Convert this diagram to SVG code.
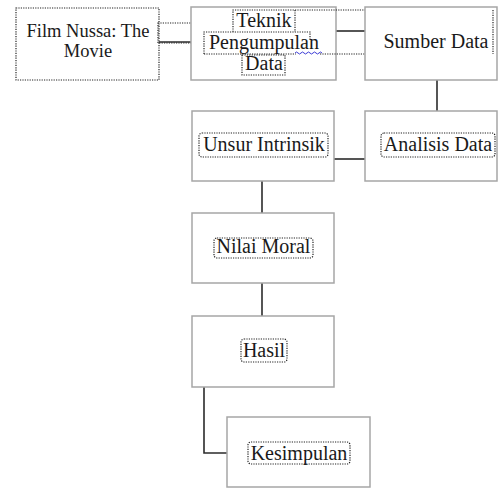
<svg xmlns="http://www.w3.org/2000/svg" width="499" height="488" viewBox="0 0 499 488" font-family="Liberation Serif, serif">
<style>
.box{fill:#fff;stroke:#a6a6a6;stroke-width:1.5}
.dot{fill:none;stroke:#222;stroke-width:1.2;stroke-dasharray:1.2 1.2}
.con{fill:none;stroke:#2b2b2b;stroke-width:1.6}
</style>
<rect width="499" height="488" fill="#fff"/>
<g id="connectors">
<line class="con" x1="159" y1="42" x2="194" y2="42"/>
<rect class="dot" x="158" y="23" width="38" height="20"/>
<line class="con" x1="336" y1="31" x2="365" y2="31"/>
<line class="con" x1="437" y1="80" x2="437" y2="111"/>
<line class="con" x1="334" y1="159" x2="365" y2="159"/>
<line class="con" x1="262" y1="181" x2="262" y2="213"/>
<line class="con" x1="262" y1="283" x2="262" y2="316"/>
<polyline class="con" points="204,387 204,453 227,453"/>
</g>
<g id="film">
<rect class="dot" x="16" y="8" width="143" height="72"/>
<text x="88" y="37" style="font-family:'Liberation Serif',serif;font-size:18.5px" fill="#1a1a1a" text-anchor="middle">Film Nussa: The</text>
<text x="88" y="57" style="font-family:'Liberation Serif',serif;font-size:18.5px" fill="#1a1a1a" text-anchor="middle">Movie</text>
</g>
<g id="teknik">
<rect class="box" x="191" y="7" width="145" height="73"/>
<path class="dot" d="M233,32 V10 H493 M295,10 V32 M204,54 V32 H310 V40 M320,54 H493"/>
<rect class="dot" x="242" y="55" width="43" height="20"/>
<line class="dot" x1="204" y1="54" x2="296" y2="54"/>
<text x="264" y="27" style="font-family:'Liberation Serif',serif;font-size:20px" fill="#1a1a1a" text-anchor="middle">Teknik</text>
<text x="264" y="49" style="font-family:'Liberation Serif',serif;font-size:20px" fill="#1a1a1a" text-anchor="middle">Pengumpulan</text>
<text x="264" y="70" style="font-family:'Liberation Serif',serif;font-size:20px" fill="#1a1a1a" text-anchor="middle">Data</text>
<path d="M295,53 q1.5,-2 3,0 t3,0 t3,0 t3,0 t3,0 t3,0 t3,0 t3,0 t3,0" fill="none" stroke="#3b3bd6" stroke-width="1"/>
</g>
<g id="sumber">
<rect class="box" x="365" y="7" width="132" height="73"/>
<path class="dot" d="M493,10 V54"/>
<text x="436" y="48" style="font-family:'Liberation Serif',serif;font-size:20px" fill="#1a1a1a" text-anchor="middle">Sumber Data</text>
</g>
<g id="unsur">
<rect class="box" x="192" y="111" width="142" height="70"/>
<rect class="dot" x="199" y="133" width="129" height="24" rx="3"/>
<text x="264" y="151" style="font-family:'Liberation Serif',serif;font-size:20px" fill="#1a1a1a" text-anchor="middle">Unsur Intrinsik</text>
</g>
<g id="analisis">
<rect class="box" x="365" y="111" width="132" height="70"/>
<rect class="dot" x="381" y="133" width="114" height="24" rx="3"/>
<text x="438" y="151" style="font-family:'Liberation Serif',serif;font-size:20px" fill="#1a1a1a" text-anchor="middle">Analisis Data</text>
</g>
<g id="nilai">
<rect class="box" x="192" y="213" width="142" height="70"/>
<rect class="dot" x="214" y="238" width="99" height="20" rx="3"/>
<text x="263.5" y="253" style="font-family:'Liberation Serif',serif;font-size:20px" fill="#1a1a1a" text-anchor="middle">Nilai Moral</text>
</g>
<g id="hasil">
<rect class="box" x="192" y="316" width="142" height="71"/>
<rect class="dot" x="241" y="339" width="46" height="23" rx="3"/>
<text x="264" y="357" style="font-family:'Liberation Serif',serif;font-size:20px" fill="#1a1a1a" text-anchor="middle">Hasil</text>
</g>
<g id="kesimpulan">
<rect class="box" x="227" y="417" width="143" height="70"/>
<rect class="dot" x="248" y="442" width="102" height="22" rx="3"/>
<text x="299" y="460" style="font-family:'Liberation Serif',serif;font-size:20px" fill="#1a1a1a" text-anchor="middle">Kesimpulan</text>
</g>
</svg>
